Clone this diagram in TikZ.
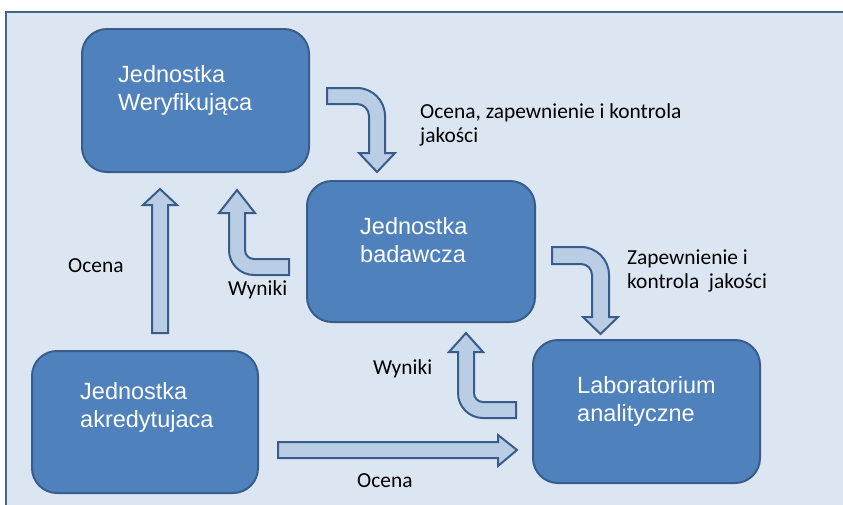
\documentclass[tikz,border=0pt]{standalone}
\usepackage{fontspec}
\setmainfont{Liberation Sans}
\newfontfamily\calib{Carlito}
\definecolor{bgblue}{RGB}{220,230,242}
\definecolor{framecol}{RGB}{65,100,145}
\definecolor{boxfill}{RGB}{79,129,189}
\definecolor{boxline}{RGB}{56,93,138}
\definecolor{arrfill}{RGB}{185,205,229}
\definecolor{arrline}{RGB}{56,93,138}
\tikzset{
  unitbox/.style={draw=boxline, line width=2pt, fill=boxfill, rounded corners=25pt},
  boxtext/.style={anchor=base west, inner sep=0pt, align=left, text=white, font=\fontsize{23.5}{27.5}\selectfont},
  lbl/.style={anchor=base west, inner sep=0pt, align=left, text=black, font=\calib\fontsize{21.4}{24}\selectfont},
  blockarrow/.style={draw=arrline, line width=2pt, fill=arrfill, line join=miter},
}
\begin{document}
\begin{tikzpicture}[x=1pt,y=-1pt]
\useasboundingbox (0,0) rectangle (843,504);
\clip (0,0) rectangle (843,504);
% background frame
\fill[white] (0,0) rectangle (843,504);
\draw[framecol, line width=2.5pt, fill=bgblue] (6,12) rectangle (860,520);

% boxes
\draw[unitbox] (82,29) rectangle (309,172);
\draw[unitbox] (307,181) rectangle (535,322);
\draw[unitbox] (533,340) rectangle (760,483);
\draw[unitbox] (32,351) rectangle (258,493);

% box texts (anchor = baseline of last line)
\node[boxtext] (tweryf) at (118,110) {Jednostka\\Weryfikująca};
\node[boxtext] (tbad) at (360,262) {Jednostka\\badawcza};
\node[boxtext] (tlab) at (577,421) {Laboratorium\\analityczne};
\node[boxtext] (takr) at (80,427) {Jednostka\\akredytujaca};

% arrow 1: Weryfikujaca -> badawcza
\draw[blockarrow] (327,88) -- (357,88) .. controls (372.5,88) and (385,100.5) .. (385,116)
  -- (385,153) -- (395,153) -- (377,172) -- (359,153) -- (369,153) -- (369,116)
  .. controls (369,109.4) and (363.6,104) .. (357,104) -- (327,104) -- cycle;

% arrow 2: badawcza -> Weryfikujaca (Wyniki)
\draw[blockarrow] (289,259) -- (254,259) .. controls (249,259) and (245,255) .. (245,250)
  -- (245,213) -- (255,213) -- (237,190) -- (219,213) -- (229,213) -- (229,250)
  .. controls (229,263.8) and (240.2,275) .. (254,275) -- (289,275) -- cycle;

% arrow 3: badawcza -> Laboratorium
\draw[blockarrow] (552,247) -- (581,247) .. controls (596.5,247) and (609,259.5) .. (609,275)
  -- (609,317) -- (618,317) -- (600.5,334) -- (583,317) -- (592,317) -- (592,275)
  .. controls (592,268.9) and (587.1,264) .. (581,264) -- (552,264) -- cycle;

% arrow 4: Laboratorium -> badawcza (Wyniki)
\draw[blockarrow] (516,402) -- (483,402) .. controls (478,402) and (474,398) .. (474,393)
  -- (474,352) -- (483,352) -- (466,333) -- (449,352) -- (458,352) -- (458,393)
  .. controls (458,406.8) and (469.2,418) .. (483,418) -- (516,418) -- cycle;

% arrow 5: akredytujaca -> Laboratorium (Ocena)
\draw[blockarrow] (278,442) -- (498,442) -- (498,435) -- (517,450) -- (498,466) -- (498,458) -- (278,458) -- cycle;

% arrow 6: akredytujaca -> Weryfikujaca (Ocena)
\draw[blockarrow] (152,333) -- (152,205) -- (143,205) -- (160,189) -- (177,205) -- (168,205) -- (168,333) -- cycle;

% labels (anchor = baseline of last line)
\node[lbl] (l1) at (420,142) {Ocena, zapewnienie i kontrola\\jakości};
\node[lbl] (l2) at (627,288) {Zapewnienie i\\kontrola~~jakości};
\node[lbl] (l3) at (68,272) {Ocena};
\node[lbl] (l4) at (228,295) {Wyniki};
\node[lbl] (l5) at (373,374) {Wyniki};
\node[lbl] (l6) at (357,487) {Ocena};
\end{tikzpicture}
\end{document}
